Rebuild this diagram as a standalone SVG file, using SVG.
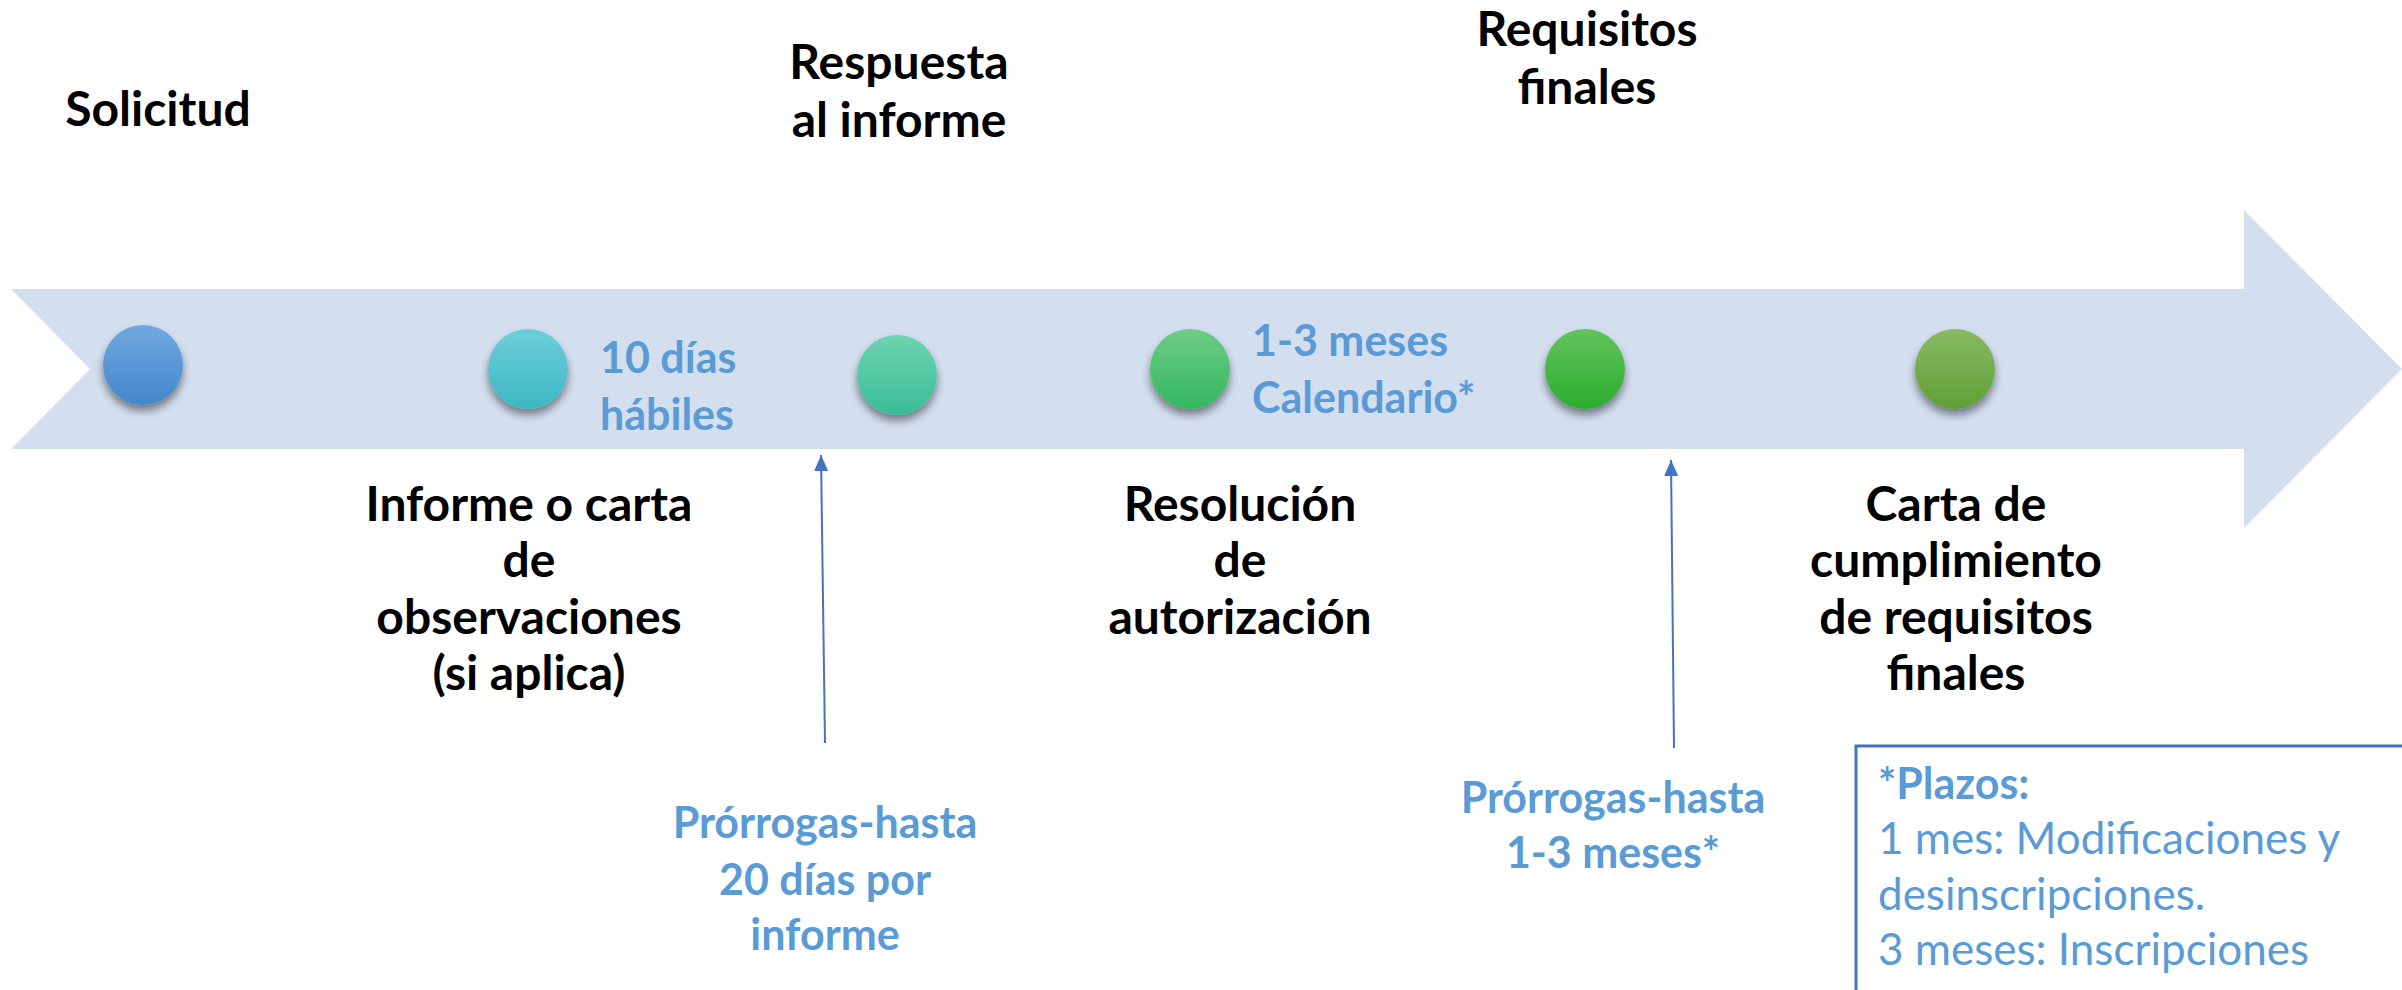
<svg xmlns="http://www.w3.org/2000/svg" width="2402" height="990" viewBox="0 0 2402 990">
<style>
.lbl{font-family:Lato,"Open Sans","Liberation Sans",sans-serif;font-weight:bold;font-size:48px;fill:#000;text-anchor:middle}
.blue{font-family:Lato,"Open Sans","Liberation Sans",sans-serif;font-weight:bold;font-size:43px;fill:#5B9BD5}
.note{font-family:Lato,"Open Sans","Liberation Sans",sans-serif;font-size:44px;fill:#5B9BD5}
.conn{stroke:#4472C4;stroke-width:2;fill:none}
</style>
<defs>
<filter id="sh" x="-50%" y="-50%" width="200%" height="200%">
<feDropShadow dx="0" dy="6" stdDeviation="4" flood-color="#000" flood-opacity="0.45"/>
</filter>
<linearGradient id="g1" x1="0" y1="0" x2="0" y2="1"><stop offset="0" stop-color="#71A8DE"/><stop offset="1" stop-color="#4387CB"/></linearGradient>
<linearGradient id="g2" x1="0" y1="0" x2="0" y2="1"><stop offset="0" stop-color="#6ECED7"/><stop offset="1" stop-color="#3BB8C5"/></linearGradient>
<linearGradient id="g3" x1="0" y1="0" x2="0" y2="1"><stop offset="0" stop-color="#6FD3B1"/><stop offset="1" stop-color="#39BD96"/></linearGradient>
<linearGradient id="g4" x1="0" y1="0" x2="0" y2="1"><stop offset="0" stop-color="#6ECC86"/><stop offset="1" stop-color="#33B75E"/></linearGradient>
<linearGradient id="g5" x1="0" y1="0" x2="0" y2="1"><stop offset="0" stop-color="#62C35C"/><stop offset="1" stop-color="#2BAD2E"/></linearGradient>
<linearGradient id="g6" x1="0" y1="0" x2="0" y2="1"><stop offset="0" stop-color="#89B964"/><stop offset="1" stop-color="#60A036"/></linearGradient>
<marker id="ah" markerUnits="userSpaceOnUse" markerWidth="16" markerHeight="14" viewBox="0 0 16 14" refX="16" refY="7" orient="auto">
<path d="M0,0 L16,7 L0,14 Z" fill="#4472C4"/>
</marker>
</defs>
<rect width="2402" height="990" fill="#fff"/>
<g id="timeline">
<polygon points="11,289 2244,289 2244,210 2402,369 2244,528 2244,449 11,449 90,369" fill="#D3DEEF"/>
</g>
<g id="n1"><circle cx="143" cy="365" r="40" fill="url(#g1)" filter="url(#sh)"/><text class="lbl" x="158" y="126">Solicitud</text></g>
<g id="n2"><circle cx="528" cy="369" r="40" fill="url(#g2)" filter="url(#sh)"/><text class="lbl" x="529" y="521">Informe o carta</text><text class="lbl" x="529" y="577">de</text><text class="lbl" x="529" y="634">observaciones</text><text class="lbl" x="529" y="690">(si aplica)</text></g>
<g id="n3"><circle cx="897" cy="375" r="40" fill="url(#g3)" filter="url(#sh)"/><text class="lbl" x="899" y="79">Respuesta</text><text class="lbl" x="899" y="137">al informe</text></g>
<g id="n4"><circle cx="1190" cy="369" r="40" fill="url(#g4)" filter="url(#sh)"/><text class="lbl" x="1240" y="521">Resolución</text><text class="lbl" x="1240" y="577">de</text><text class="lbl" x="1240" y="634">autorización</text></g>
<g id="n5"><circle cx="1585" cy="369" r="40" fill="url(#g5)" filter="url(#sh)"/><text class="lbl" x="1587" y="46">Requisitos</text><text class="lbl" x="1587" y="104">finales</text></g>
<g id="n6"><circle cx="1955" cy="369" r="40" fill="url(#g6)" filter="url(#sh)"/><text class="lbl" x="1956" y="521">Carta de</text><text class="lbl" x="1956" y="577">cumplimiento</text><text class="lbl" x="1956" y="634">de requisitos</text><text class="lbl" x="1956" y="690">finales</text></g>
<g id="d1"><text class="blue" x="600" y="373">10 días</text><text class="blue" x="600" y="430">hábiles</text></g>
<g id="d2"><text class="blue" x="1252" y="356">1-3 meses</text><text class="blue" x="1252" y="413">Calendario*</text></g>
<g id="p1"><text class="blue" x="825" y="838" text-anchor="middle">Prórrogas-hasta</text><text class="blue" x="825" y="895" text-anchor="middle">20 días por</text><text class="blue" x="825" y="950" text-anchor="middle">informe</text></g>
<g id="p2"><text class="blue" x="1613" y="813" text-anchor="middle">Prórrogas-hasta</text><text class="blue" x="1613" y="868" text-anchor="middle">1-3 meses*</text></g>
<g id="notebox"><rect x="1856" y="746" width="600" height="300" fill="#fff" stroke="#4472C4" stroke-width="3"/><text class="blue" x="1878" y="799">*Plazos:</text><text class="note" x="1878" y="854">1 mes: Modificaciones y</text><text class="note" x="1878" y="910">desinscripciones.</text><text class="note" x="1878" y="965">3 meses: Inscripciones</text></g>
<g id="connectors">
<line class="conn" x1="825" y1="743" x2="821" y2="455" marker-end="url(#ah)"/>
<line class="conn" x1="1674" y1="748" x2="1671" y2="460" marker-end="url(#ah)"/>
</g>
</svg>
